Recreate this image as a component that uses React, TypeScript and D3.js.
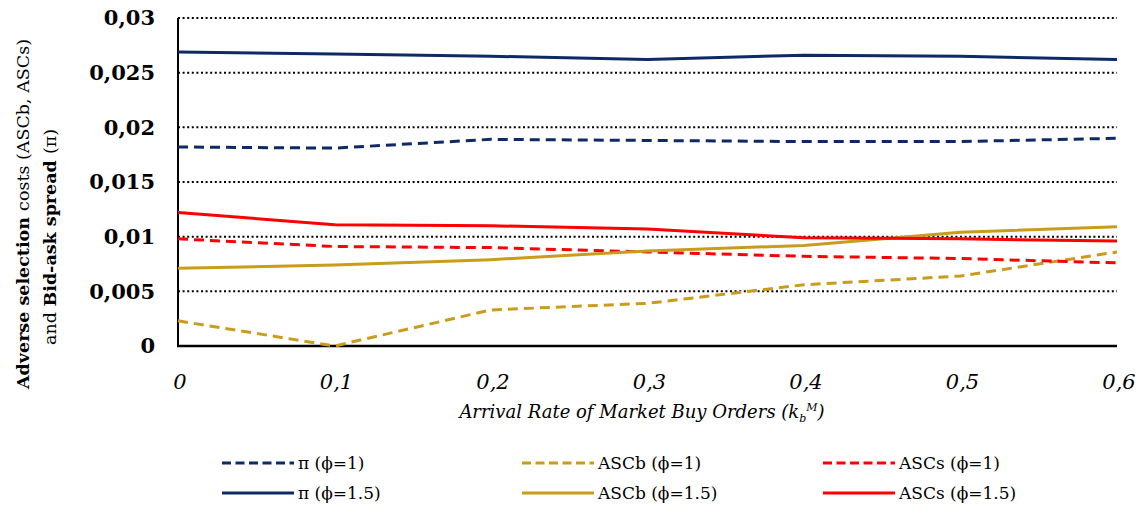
import React, { useEffect, useRef } from "react";
import * as d3 from "d3";

// arrival rate of market buy orders (x)
const arrivalRates = [0, 0.1, 0.2, 0.3, 0.4, 0.5, 0.6];
const yTicks = [0, 0.005, 0.01, 0.015, 0.02, 0.025, 0.03];

// series
const piPhi1 = [0.0182, 0.0181, 0.0189, 0.0188, 0.0187, 0.0187, 0.019];
const piPhi15 = [0.0269, 0.0267, 0.0265, 0.0262, 0.0266, 0.0265, 0.0262];
const ascbPhi1 = [0.0023, 0.0, 0.0033, 0.0039, 0.0056, 0.0064, 0.0086];
const ascbPhi15 = [0.0071, 0.0074, 0.0079, 0.0087, 0.0092, 0.0104, 0.0109];
const ascsPhi1 = [0.0098, 0.0091, 0.009, 0.0086, 0.0082, 0.008, 0.0076];
const ascsPhi15 = [0.0122, 0.0111, 0.011, 0.0107, 0.0099, 0.0098, 0.0096];

const seriesLabels = ["π (ϕ=1)", "ASCb (ϕ=1)", "ASCs (ϕ=1)", "π (ϕ=1.5)", "ASCb (ϕ=1.5)", "ASCs (ϕ=1.5)"];

const NAVY = "#0d2a66";
const GOLD = "#c99c1b";
const RED = "#ff0000";
const FONT = "'DejaVu Serif', serif";

const App = () => {
  const svgRef = useRef(null);

  useEffect(() => {
    const width = 1142, height = 515;
    const margin = { top: 18, right: 25, bottom: 169, left: 178 };

    const svg = d3.select(svgRef.current);
    svg.selectAll("*").remove();

    const locale = d3.formatLocale({ decimal: ",", thousands: ".", grouping: [3], currency: ["", ""] });
    const fmt = locale.format("~g");

    const x = d3.scaleLinear()
      .domain([0, 0.6])
      .range([margin.left, width - margin.right]);

    const y = d3.scaleLinear()
      .domain([0, 0.03])
      .range([height - margin.bottom, margin.top]);

    // dotted grid lines
    svg.append("g")
      .selectAll("line")
      .data(yTicks.filter(d => d > 0))
      .join("line")
      .attr("x1", x(0))
      .attr("x2", x(0.6))
      .attr("y1", d => y(d))
      .attr("y2", d => y(d))
      .attr("stroke", "#000")
      .attr("stroke-width", 2)
      .attr("stroke-dasharray", "2,2.6");

    // axis lines
    svg.append("line")
      .attr("x1", x(0)).attr("x2", x(0))
      .attr("y1", y(0.03)).attr("y2", y(0))
      .attr("stroke", "#000").attr("stroke-width", 2);
    svg.append("line")
      .attr("x1", x(0) - 1).attr("x2", x(0.6))
      .attr("y1", y(0)).attr("y2", y(0))
      .attr("stroke", "#000").attr("stroke-width", 2.5);

    // y tick labels
    svg.append("g")
      .selectAll("text")
      .data(yTicks)
      .join("text")
      .attr("x", 155)
      .attr("y", d => y(d))
      .attr("dy", "0.35em")
      .attr("text-anchor", "end")
      .attr("font-weight", "bold")
      .attr("font-size", 21)
      .text(d => fmt(d));

    // x tick labels
    svg.append("g")
      .selectAll("text")
      .data(arrivalRates)
      .join("text")
      .attr("x", d => x(d) + 2)
      .attr("y", 389)
      .attr("text-anchor", "middle")
      .attr("font-style", "italic")
      .attr("font-size", 21)
      .text(d => fmt(d));

    // x axis title
    const xt = svg.append("text")
      .attr("x", 642)
      .attr("y", 418)
      .attr("text-anchor", "middle")
      .attr("font-style", "italic")
      .attr("font-size", 18);
    xt.append("tspan").text("Arrival Rate of Market Buy Orders (k");
    xt.append("tspan").attr("dy", 4).attr("font-size", 11).text("b");
    xt.append("tspan").attr("dy", -11).attr("font-size", 11).text("M");
    xt.append("tspan").attr("dy", 7).text(")");

    // y axis title, two rotated lines
    const yt1 = svg.append("text")
      .attr("transform", "translate(29,214) rotate(-90)")
      .attr("text-anchor", "middle")
      .attr("font-size", 17.5);
    yt1.append("tspan").attr("font-weight", "bold").text("Adverse selection ");
    yt1.append("tspan").text("costs (ASCb, ASCs)");

    const yt2 = svg.append("text")
      .attr("transform", "translate(56,237) rotate(-90)")
      .attr("text-anchor", "middle")
      .attr("font-size", 17.5);
    yt2.append("tspan").text("and ");
    yt2.append("tspan").attr("font-weight", "bold").text("Bid-ask spread ");
    yt2.append("tspan").text("(π)");

    // series
    const series = [
      { values: piPhi1, color: NAVY, dash: "10,6" },
      { values: ascbPhi1, color: GOLD, dash: "10,6" },
      { values: ascsPhi1, color: RED, dash: "10,6" },
      { values: piPhi15, color: NAVY, dash: null },
      { values: ascbPhi15, color: GOLD, dash: null },
      { values: ascsPhi15, color: RED, dash: null },
    ];

    const line = d3.line()
      .x((d, i) => x(arrivalRates[i]))
      .y(d => y(d));

    series.forEach(s => {
      svg.append("path")
        .datum(s.values)
        .attr("fill", "none")
        .attr("stroke", s.color)
        .attr("stroke-width", 3)
        .attr("stroke-linejoin", "round")
        .attr("stroke-dasharray", s.dash)
        .attr("d", line);
    });

    // legend
    const colX = [222, 522, 823];
    const rowY = [463, 493];
    series.forEach((s, i) => {
      const cx = colX[i % 3];
      const cy = rowY[Math.floor(i / 3)];
      svg.append("line")
        .attr("x1", cx).attr("x2", cx + 72)
        .attr("y1", cy).attr("y2", cy)
        .attr("stroke", s.color)
        .attr("stroke-width", 3)
        .attr("stroke-dasharray", s.dash ? "9,4.5" : null);
      svg.append("text")
        .attr("x", cx + 76)
        .attr("y", cy)
        .attr("dy", "0.35em")
        .attr("font-size", 17)
        .text(seriesLabels[i]);
    });
  }, []);

  return (
    <svg ref={svgRef} width="1142" height="515" fontFamily={FONT}
      style={{ position: "absolute", left: 0, top: 0, background: "#fff" }}></svg>
  );
};

export default App;
